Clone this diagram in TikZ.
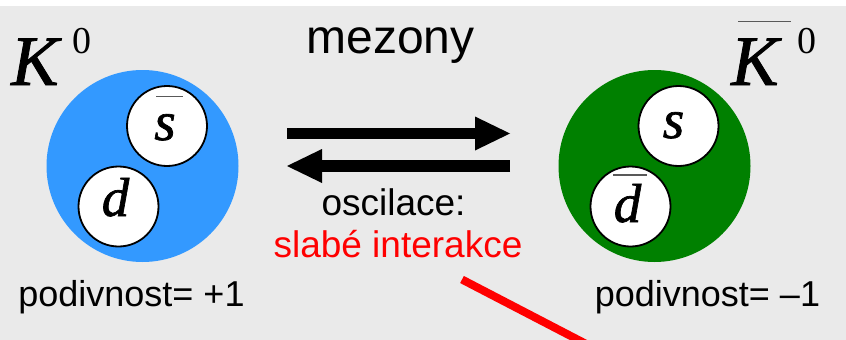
\documentclass[tikz,border=0pt]{standalone}
\usepackage{fontspec}
\setmainfont{Liberation Sans}
\newfontfamily\tnr[FakeBold=1.2]{Liberation Serif}
\newfontfamily\tnrup{Liberation Serif}
\usetikzlibrary{arrows.meta,calc}
\definecolor{bg}{RGB}{234,234,234}
\definecolor{kblue}{RGB}{51,153,255}
\definecolor{kgreen}{RGB}{0,128,0}
\definecolor{kred}{RGB}{255,0,0}
\begin{document}
\begin{tikzpicture}[x=1pt,y=-1pt,
  txt/.style={inner sep=0pt, anchor=base, font=\fontsize{37}{44}\selectfont},
  meson/.style={circle, minimum size=192pt, inner sep=0pt},
  quark/.style={circle, draw=black, line width=1.8pt, fill=white, minimum size=80pt, inner sep=0pt},
  qtxt/.style={inner sep=0pt, anchor=base, font=\tnr\itshape\fontsize{55}{62}\selectfont},
  ktxt/.style={inner sep=0pt, anchor=base west, font=\tnr\itshape\fontsize{71}{80}\selectfont},
  ksup/.style={inner sep=0pt, anchor=base west, font=\tnrup\fontsize{38}{44}\selectfont},
  barline/.style={draw=black!65, line width=1.4pt},
  bigarrow/.style={line width=11.5pt, -{Triangle[length=35pt,width=34pt,line width=0pt]}},
  redline/.style={draw=kred, line width=8pt}]
\clip (0,0) rectangle (846,340);
\useasboundingbox (0,0) rectangle (846,340);
\fill[white] (0,0) rectangle (846,340);
\fill[bg] (0,6) rectangle (846,340);

% mesons
\node[meson, fill=kblue] (k0) at (142.5,166) {};
\node[meson, fill=kgreen] (k0b) at (654.5,166) {};

% quarks in K0
\node[quark] (qsb) at (167,126) {};
\node[qtxt] (tsb) at ($(qsb)+(-2,14)$) {s};
\draw[barline] ($(qsb)+(-11,-29.5)$) -- ($(qsb)+(15.5,-29.5)$);
\node[quark] (qd) at (118.5,206.5) {};
\node[qtxt] (td) at ($(qd)+(-3,9.5)$) {d};

% quarks in K0bar
\node[quark] (qs) at (678.5,126) {};
\node[qtxt] (ts) at ($(qs)+(-5,12)$) {s};
\node[quark] (qdb) at (630.5,206.5) {};
\node[qtxt] (tdb) at ($(qdb)+(-3,15.5)$) {d};
\draw[barline] ($(qdb)+(-17.5,-31.5)$) -- ($(qdb)+(16.5,-31.5)$);

% labels K
\node[ktxt] (kl) at (11,85) {K};
\node[ksup] (kls) at (72,53) {0};
\node[ktxt] (kr) at (731,85) {K};
\draw[barline] (738,21.7) -- (791,21.7);
\node[ksup] (krs) at (797,53) {0};

% texts
\node[txt, font=\fontsize{48}{56}\selectfont] (mez) at (390.5,53) {mezony};
\node[txt] (osc) at (393.5,215) {oscilace:};
\node[txt, text=kred] (slab) at (398,257) {slabé interakce};
\node[txt, font=\fontsize{36}{44}\selectfont] (p1) at (131.5,306) {podivnost= +1};
\node[txt, font=\fontsize{36}{44}\selectfont] (p2) at (707.5,306) {podivnost= –1};

% arrows
\coordinate (a1s) at (287,133.5);
\coordinate (a1e) at (510,133.5);
\coordinate (a2s) at (510,166);
\coordinate (a2e) at (287,166);
\draw[bigarrow] (a1s) -- (a1e);
\draw[bigarrow] (a2s) -- (a2e);

% red line
\coordinate (r1) at (462,279.5);
\coordinate (r2) at (590,346);
\draw[redline] (r1) -- (r2);
\end{tikzpicture}
\end{document}
